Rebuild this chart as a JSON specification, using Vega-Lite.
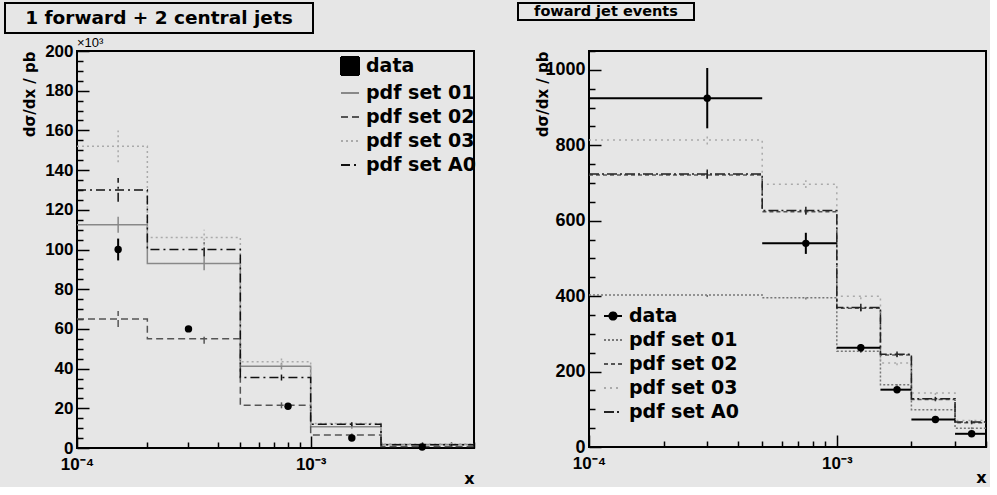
{
  "$schema": "https://vega.github.io/schema/vega-lite/v6.json",
  "padding": {"left": 4, "top": 2, "right": 0, "bottom": 0},
  "datasets": {
    "left_pdf": [
      {"series": "pdf set 01", "bin": 1, "lo": 0.0001, "hi": 0.0002, "xc": 0.00015, "y": 112.5, "ylo": 108.5, "yhi": 116.5},
      {"series": "pdf set 01", "bin": 2, "lo": 0.0002, "hi": 0.0005, "xc": 0.00035, "y": 93, "ylo": 89.5, "yhi": 96.5},
      {"series": "pdf set 01", "bin": 3, "lo": 0.0005, "hi": 0.001, "xc": 0.00075, "y": 41.2, "ylo": 39.5, "yhi": 43},
      {"series": "pdf set 01", "bin": 4, "lo": 0.001, "hi": 0.002, "xc": 0.0015, "y": 10.7, "ylo": 9.7, "yhi": 11.7},
      {"series": "pdf set 01", "bin": 5, "lo": 0.002, "hi": 0.005, "xc": 0.004, "y": 1.8, "ylo": 1.4, "yhi": 2.2},
      {"series": "pdf set 02", "bin": 1, "lo": 0.0001, "hi": 0.0002, "xc": 0.00015, "y": 65, "ylo": 61, "yhi": 69},
      {"series": "pdf set 02", "bin": 2, "lo": 0.0002, "hi": 0.0005, "xc": 0.00035, "y": 55, "ylo": 52.5, "yhi": 57.5},
      {"series": "pdf set 02", "bin": 3, "lo": 0.0005, "hi": 0.001, "xc": 0.00075, "y": 21.5, "ylo": 20, "yhi": 23},
      {"series": "pdf set 02", "bin": 4, "lo": 0.001, "hi": 0.002, "xc": 0.0015, "y": 6.5, "ylo": 5.7, "yhi": 7.3},
      {"series": "pdf set 02", "bin": 5, "lo": 0.002, "hi": 0.005, "xc": 0.004, "y": 0.8, "ylo": 0.5, "yhi": 1.1},
      {"series": "pdf set 03", "bin": 1, "lo": 0.0001, "hi": 0.0002, "xc": 0.00015, "y": 152, "ylo": 144, "yhi": 160},
      {"series": "pdf set 03", "bin": 2, "lo": 0.0002, "hi": 0.0005, "xc": 0.00035, "y": 106, "ylo": 102, "yhi": 110},
      {"series": "pdf set 03", "bin": 3, "lo": 0.0005, "hi": 0.001, "xc": 0.00075, "y": 43.5, "ylo": 41.5, "yhi": 45.5},
      {"series": "pdf set 03", "bin": 4, "lo": 0.001, "hi": 0.002, "xc": 0.0015, "y": 12.3, "ylo": 11.3, "yhi": 13.3},
      {"series": "pdf set 03", "bin": 5, "lo": 0.002, "hi": 0.005, "xc": 0.004, "y": 2.0, "ylo": 1.6, "yhi": 2.4},
      {"series": "pdf set A0", "bin": 1, "lo": 0.0001, "hi": 0.0002, "xc": 0.00015, "y": 130, "ylo": 124, "yhi": 136},
      {"series": "pdf set A0", "bin": 2, "lo": 0.0002, "hi": 0.0005, "xc": 0.00035, "y": 100, "ylo": 96.5, "yhi": 103.5},
      {"series": "pdf set A0", "bin": 3, "lo": 0.0005, "hi": 0.001, "xc": 0.00075, "y": 35.5, "ylo": 34, "yhi": 37},
      {"series": "pdf set A0", "bin": 4, "lo": 0.001, "hi": 0.002, "xc": 0.0015, "y": 12, "ylo": 11, "yhi": 13},
      {"series": "pdf set A0", "bin": 5, "lo": 0.002, "hi": 0.005, "xc": 0.004, "y": 1.6, "ylo": 1.2, "yhi": 2.0}
    ],
    "left_data": [
      {"series": "data", "x": 0.00015, "y": 100, "ylo": 94.5, "yhi": 105.5},
      {"series": "data", "x": 0.0003, "y": 60, "ylo": 58.8, "yhi": 61.2},
      {"series": "data", "x": 0.0008, "y": 21, "ylo": 20.2, "yhi": 21.8},
      {"series": "data", "x": 0.0015, "y": 5, "ylo": 4.5, "yhi": 5.5},
      {"series": "data", "x": 0.003, "y": 0.5, "ylo": 0.3, "yhi": 0.7}
    ],
    "right_pdf": [
      {"series": "pdf set 01", "bin": 1, "lo": 0.0001, "hi": 0.0005, "xc": 0.0003, "y": 403, "ylo": 398, "yhi": 408},
      {"series": "pdf set 01", "bin": 2, "lo": 0.0005, "hi": 0.001, "xc": 0.00075, "y": 396, "ylo": 391, "yhi": 401},
      {"series": "pdf set 01", "bin": 3, "lo": 0.001, "hi": 0.0015, "xc": 0.00125, "y": 254, "ylo": 249, "yhi": 259},
      {"series": "pdf set 01", "bin": 4, "lo": 0.0015, "hi": 0.002, "xc": 0.00175, "y": 165, "ylo": 161, "yhi": 169},
      {"series": "pdf set 01", "bin": 5, "lo": 0.002, "hi": 0.003, "xc": 0.0025, "y": 99, "ylo": 96, "yhi": 102},
      {"series": "pdf set 01", "bin": 6, "lo": 0.003, "hi": 0.004, "xc": 0.0035, "y": 50, "ylo": 47, "yhi": 53},
      {"series": "pdf set 02", "bin": 1, "lo": 0.0001, "hi": 0.0005, "xc": 0.0003, "y": 721, "ylo": 711, "yhi": 731},
      {"series": "pdf set 02", "bin": 2, "lo": 0.0005, "hi": 0.001, "xc": 0.00075, "y": 624, "ylo": 616, "yhi": 632},
      {"series": "pdf set 02", "bin": 3, "lo": 0.001, "hi": 0.0015, "xc": 0.00125, "y": 368, "ylo": 360, "yhi": 376},
      {"series": "pdf set 02", "bin": 4, "lo": 0.0015, "hi": 0.002, "xc": 0.00175, "y": 244, "ylo": 238, "yhi": 250},
      {"series": "pdf set 02", "bin": 5, "lo": 0.002, "hi": 0.003, "xc": 0.0025, "y": 126, "ylo": 121, "yhi": 131},
      {"series": "pdf set 02", "bin": 6, "lo": 0.003, "hi": 0.004, "xc": 0.0035, "y": 64, "ylo": 60, "yhi": 68},
      {"series": "pdf set 03", "bin": 1, "lo": 0.0001, "hi": 0.0005, "xc": 0.0003, "y": 814, "ylo": 802, "yhi": 826},
      {"series": "pdf set 03", "bin": 2, "lo": 0.0005, "hi": 0.001, "xc": 0.00075, "y": 697, "ylo": 687, "yhi": 707},
      {"series": "pdf set 03", "bin": 3, "lo": 0.001, "hi": 0.0015, "xc": 0.00125, "y": 400, "ylo": 392, "yhi": 408},
      {"series": "pdf set 03", "bin": 4, "lo": 0.0015, "hi": 0.002, "xc": 0.00175, "y": 223, "ylo": 217, "yhi": 229},
      {"series": "pdf set 03", "bin": 5, "lo": 0.002, "hi": 0.003, "xc": 0.0025, "y": 143, "ylo": 138, "yhi": 148},
      {"series": "pdf set 03", "bin": 6, "lo": 0.003, "hi": 0.004, "xc": 0.0035, "y": 70, "ylo": 66, "yhi": 74},
      {"series": "pdf set A0", "bin": 1, "lo": 0.0001, "hi": 0.0005, "xc": 0.0003, "y": 724, "ylo": 712, "yhi": 736},
      {"series": "pdf set A0", "bin": 2, "lo": 0.0005, "hi": 0.001, "xc": 0.00075, "y": 627, "ylo": 617, "yhi": 637},
      {"series": "pdf set A0", "bin": 3, "lo": 0.001, "hi": 0.0015, "xc": 0.00125, "y": 370, "ylo": 360, "yhi": 380},
      {"series": "pdf set A0", "bin": 4, "lo": 0.0015, "hi": 0.002, "xc": 0.00175, "y": 246, "ylo": 239, "yhi": 253},
      {"series": "pdf set A0", "bin": 5, "lo": 0.002, "hi": 0.003, "xc": 0.0025, "y": 128, "ylo": 123, "yhi": 133},
      {"series": "pdf set A0", "bin": 6, "lo": 0.003, "hi": 0.004, "xc": 0.0035, "y": 66, "ylo": 62, "yhi": 70}
    ],
    "right_data": [
      {"series": "data", "lo": 0.0001, "hi": 0.0005, "x": 0.0003, "y": 925, "ylo": 845, "yhi": 1005},
      {"series": "data", "lo": 0.0005, "hi": 0.001, "x": 0.00075, "y": 540, "ylo": 512, "yhi": 568},
      {"series": "data", "lo": 0.001, "hi": 0.0015, "x": 0.00125, "y": 263, "ylo": 253, "yhi": 273},
      {"series": "data", "lo": 0.0015, "hi": 0.002, "x": 0.00175, "y": 152, "ylo": 146, "yhi": 158},
      {"series": "data", "lo": 0.002, "hi": 0.003, "x": 0.0025, "y": 73, "ylo": 68, "yhi": 78},
      {"series": "data", "lo": 0.003, "hi": 0.004, "x": 0.0035, "y": 35, "ylo": 31, "yhi": 39}
    ],
    "left_title": [{"t": "1 forward + 2 central jets"}],
    "right_title": [{"t": "foward jet events"}]
  },
  "spacing": 2,
  "resolve": {"scale": {"x": "independent", "y": "independent", "stroke": "independent", "strokeDash": "independent", "shape": "independent", "fill": "independent"}},
  "vconcat": [
    {
      "spacing": 203,
      "hconcat": [
        {
          "width": 308,
          "height": 30,
          "data": {"name": "left_title"},
          "layer": [
            {"mark": {"type": "rect", "fill": "#e6e6e6", "stroke": "black", "strokeWidth": 2}, "encoding": {}},
            {"mark": {"type": "text", "font": "DejaVu Sans", "fontSize": 18.5, "fontWeight": "bold", "color": "black"}, "encoding": {"text": {"field": "t"}}}
          ]
        },
        {
          "width": 176,
          "height": 17,
          "data": {"name": "right_title"},
          "layer": [
            {"mark": {"type": "rect", "fill": "#e6e6e6", "stroke": "black", "strokeWidth": 2}, "encoding": {}},
            {"mark": {"type": "text", "font": "DejaVu Sans", "fontSize": 14.5, "fontWeight": "bold", "color": "black"}, "encoding": {"text": {"field": "t"}}}
          ]
        }
      ]
    },
    {
      "spacing": 56,
      "resolve": {"scale": {"x": "independent", "y": "independent", "stroke": "independent", "strokeDash": "independent", "shape": "independent", "fill": "independent"}},
      "hconcat": [
        {
          "spacing": 15,
          "resolve": {"scale": {"x": "independent", "y": "independent", "stroke": "independent", "strokeDash": "independent", "shape": "independent", "fill": "independent"}},
          "hconcat": [
            {
              "width": 1,
              "height": 1,
              "view": {"stroke": null},
              "data": {"values": [{"t": ""}]},
              "mark": {"type": "text", "text": ""},
              "encoding": {}
            },
            {
              "width": 397,
              "height": 397,
              "title": {"text": "×10³", "anchor": "start", "frame": "group", "orient": "top", "font": "Liberation Sans", "fontSize": 13, "fontWeight": "normal", "offset": -8, "color": "black"},
              "layer": [
                {
                  "data": {"name": "left_pdf"},
                  "transform": [{"fold": ["lo", "hi"], "as": ["edge", "xe"]}],
                  "mark": {"type": "line", "strokeWidth": 1.5},
                  "encoding": {
                    "x": {"field": "xe", "type": "quantitative", "scale": {"type": "log", "domain": [0.0001, 0.005], "nice": false},
                      "axis": {"values": [0.0001, 0.0002, 0.0003, 0.0004, 0.0005, 0.0006, 0.0007, 0.0008, 0.0009, 0.001, 0.002, 0.003, 0.004, 0.005], "labelExpr": "datum.value == 0.0001 ? '10⁻⁴' : (datum.value == 0.001 ? '10⁻³' : '')", "tickSize": {"condition": {"test": "datum.value == 0.0001 || datum.value == 0.001", "value": -12}, "value": -6}, "labelPadding": 20, "title": "x", "titleAnchor": "end", "titlePadding": -8, "titleFontSize": 16}},
                    "y": {"field": "y", "type": "quantitative", "scale": {"domain": [0, 200], "nice": false},
                      "axis": {"values": [0,5,10,15,20,25,30,35,40,45,50,55,60,65,70,75,80,85,90,95,100,105,110,115,120,125,130,135,140,145,150,155,160,165,170,175,180,185,190,195,200], "format": "d", "labelExpr": "datum.value % 20 == 0 ? datum.label : ''", "tickSize": {"condition": {"test": "datum.value % 20 == 0", "value": -12}, "value": -6}, "labelPadding": 16, "title": "dσ/dx / pb", "titleAnchor": "end", "titlePadding": 7, "titleFontSize": 15}},
                    "stroke": {"field": "series", "type": "nominal", "scale": {"domain": ["data", "pdf set 01", "pdf set 02", "pdf set 03", "pdf set A0"], "range": ["black", "#888888", "#555555", "#aaaaaa", "#111111"]}, "legend": {"orient": "none", "legendX": 263, "legendY": 5, "title": null}},
                    "strokeDash": {"field": "series", "type": "nominal", "scale": {"domain": ["data", "pdf set 01", "pdf set 02", "pdf set 03", "pdf set A0"], "range": [[1, 0], [1, 0], [7, 4], [2, 3], [9, 4, 2, 4]]}, "legend": {"orient": "none", "legendX": 263, "legendY": 5, "title": null}},
                    "order": [{"field": "bin", "type": "quantitative"}, {"field": "edge", "sort": "descending"}]
                  }
                },
                {
                  "data": {"name": "left_pdf"},
                  "mark": {"type": "rule", "strokeWidth": 1.5},
                  "encoding": {
                    "x": {"field": "xc", "type": "quantitative", "scale": {"type": "log", "domain": [0.0001, 0.005], "nice": false},
                      "axis": {"values": [0.0001, 0.0002, 0.0003, 0.0004, 0.0005, 0.0006, 0.0007, 0.0008, 0.0009, 0.001, 0.002, 0.003, 0.004, 0.005], "labelExpr": "datum.value == 0.0001 ? '10⁻⁴' : (datum.value == 0.001 ? '10⁻³' : '')", "tickSize": {"condition": {"test": "datum.value == 0.0001 || datum.value == 0.001", "value": -12}, "value": -6}, "labelPadding": 20, "title": "x", "titleAnchor": "end", "titlePadding": -8, "titleFontSize": 16}},
                    "y": {"field": "ylo", "type": "quantitative", "scale": {"domain": [0, 200], "nice": false},
                      "axis": {"values": [0,5,10,15,20,25,30,35,40,45,50,55,60,65,70,75,80,85,90,95,100,105,110,115,120,125,130,135,140,145,150,155,160,165,170,175,180,185,190,195,200], "format": "d", "labelExpr": "datum.value % 20 == 0 ? datum.label : ''", "tickSize": {"condition": {"test": "datum.value % 20 == 0", "value": -12}, "value": -6}, "labelPadding": 16, "title": "dσ/dx / pb", "titleAnchor": "end", "titlePadding": 7, "titleFontSize": 15}},
                    "y2": {"field": "yhi"},
                    "stroke": {"field": "series", "type": "nominal", "scale": {"domain": ["data", "pdf set 01", "pdf set 02", "pdf set 03", "pdf set A0"], "range": ["black", "#888888", "#555555", "#aaaaaa", "#111111"]}, "legend": {"orient": "none", "legendX": 263, "legendY": 5, "title": null}},
                    "strokeDash": {"field": "series", "type": "nominal", "scale": {"domain": ["data", "pdf set 01", "pdf set 02", "pdf set 03", "pdf set A0"], "range": [[1, 0], [1, 0], [7, 4], [2, 3], [9, 4, 2, 4]]}, "legend": {"orient": "none", "legendX": 263, "legendY": 5, "title": null}}
                  }
                },
                {
                  "data": {"name": "left_data"},
                  "mark": {"type": "rule", "strokeWidth": 2, "color": "black"},
                  "encoding": {
                    "x": {"field": "x", "type": "quantitative", "scale": {"type": "log", "domain": [0.0001, 0.005], "nice": false},
                      "axis": {"values": [0.0001, 0.0002, 0.0003, 0.0004, 0.0005, 0.0006, 0.0007, 0.0008, 0.0009, 0.001, 0.002, 0.003, 0.004, 0.005], "labelExpr": "datum.value == 0.0001 ? '10⁻⁴' : (datum.value == 0.001 ? '10⁻³' : '')", "tickSize": {"condition": {"test": "datum.value == 0.0001 || datum.value == 0.001", "value": -12}, "value": -6}, "labelPadding": 20, "title": "x", "titleAnchor": "end", "titlePadding": -8, "titleFontSize": 16}},
                    "y": {"field": "ylo", "type": "quantitative", "scale": {"domain": [0, 200], "nice": false},
                      "axis": {"values": [0,5,10,15,20,25,30,35,40,45,50,55,60,65,70,75,80,85,90,95,100,105,110,115,120,125,130,135,140,145,150,155,160,165,170,175,180,185,190,195,200], "format": "d", "labelExpr": "datum.value % 20 == 0 ? datum.label : ''", "tickSize": {"condition": {"test": "datum.value % 20 == 0", "value": -12}, "value": -6}, "labelPadding": 16, "title": "dσ/dx / pb", "titleAnchor": "end", "titlePadding": 7, "titleFontSize": 15}},
                    "y2": {"field": "yhi"}
                  }
                },
                {
                  "data": {"name": "left_data"},
                  "mark": {"type": "point", "filled": true, "size": 55, "opacity": 1, "shape": "circle", "color": "black"},
                  "encoding": {
                    "x": {"field": "x", "type": "quantitative", "scale": {"type": "log", "domain": [0.0001, 0.005], "nice": false},
                      "axis": {"values": [0.0001, 0.0002, 0.0003, 0.0004, 0.0005, 0.0006, 0.0007, 0.0008, 0.0009, 0.001, 0.002, 0.003, 0.004, 0.005], "labelExpr": "datum.value == 0.0001 ? '10⁻⁴' : (datum.value == 0.001 ? '10⁻³' : '')", "tickSize": {"condition": {"test": "datum.value == 0.0001 || datum.value == 0.001", "value": -12}, "value": -6}, "labelPadding": 20, "title": "x", "titleAnchor": "end", "titlePadding": -8, "titleFontSize": 16}},
                    "y": {"field": "y", "type": "quantitative", "scale": {"domain": [0, 200], "nice": false},
                      "axis": {"values": [0,5,10,15,20,25,30,35,40,45,50,55,60,65,70,75,80,85,90,95,100,105,110,115,120,125,130,135,140,145,150,155,160,165,170,175,180,185,190,195,200], "format": "d", "labelExpr": "datum.value % 20 == 0 ? datum.label : ''", "tickSize": {"condition": {"test": "datum.value % 20 == 0", "value": -12}, "value": -6}, "labelPadding": 16, "title": "dσ/dx / pb", "titleAnchor": "end", "titlePadding": 7, "titleFontSize": 15}}
                  }
                },
                {
                  "data": {"name": "left_data"},
                  "mark": {"type": "point", "filled": true, "opacity": 0},
                  "encoding": {
                    "x": {"field": "x", "type": "quantitative", "scale": {"type": "log", "domain": [0.0001, 0.005], "nice": false},
                      "axis": {"values": [0.0001, 0.0002, 0.0003, 0.0004, 0.0005, 0.0006, 0.0007, 0.0008, 0.0009, 0.001, 0.002, 0.003, 0.004, 0.005], "labelExpr": "datum.value == 0.0001 ? '10⁻⁴' : (datum.value == 0.001 ? '10⁻³' : '')", "tickSize": {"condition": {"test": "datum.value == 0.0001 || datum.value == 0.001", "value": -12}, "value": -6}, "labelPadding": 20, "title": "x", "titleAnchor": "end", "titlePadding": -8, "titleFontSize": 16}},
                    "y": {"field": "y", "type": "quantitative", "scale": {"domain": [0, 200], "nice": false},
                      "axis": {"values": [0,5,10,15,20,25,30,35,40,45,50,55,60,65,70,75,80,85,90,95,100,105,110,115,120,125,130,135,140,145,150,155,160,165,170,175,180,185,190,195,200], "format": "d", "labelExpr": "datum.value % 20 == 0 ? datum.label : ''", "tickSize": {"condition": {"test": "datum.value % 20 == 0", "value": -12}, "value": -6}, "labelPadding": 16, "title": "dσ/dx / pb", "titleAnchor": "end", "titlePadding": 7, "titleFontSize": 15}},
                    "shape": {"field": "series", "type": "nominal", "scale": {"domain": ["data", "pdf set 01", "pdf set 02", "pdf set 03", "pdf set A0"], "range": ["square", "M-1,0H1", "M-1,0H1", "M-1,0H1", "M-1,0H1"]}, "legend": {"orient": "none", "legendX": 263, "legendY": 5, "title": null}},
                    "fill": {"field": "series", "type": "nominal", "scale": {"domain": ["data", "pdf set 01", "pdf set 02", "pdf set 03", "pdf set A0"], "range": ["black", "transparent", "transparent", "transparent", "transparent"]}, "legend": {"orient": "none", "legendX": 263, "legendY": 5, "title": null}}
                  }
                }
              ]
            }
          ]
        },
        {
          "width": 397,
          "height": 396,
          "layer": [
            {
              "data": {"name": "right_pdf"},
              "transform": [{"fold": ["lo", "hi"], "as": ["edge", "xe"]}],
              "mark": {"type": "line", "strokeWidth": 1.5},
              "encoding": {
                "x": {"field": "xe", "type": "quantitative", "scale": {"type": "log", "domain": [0.0001, 0.004], "nice": false},
                  "axis": {"values": [0.0001, 0.0002, 0.0003, 0.0004, 0.0005, 0.0006, 0.0007, 0.0008, 0.0009, 0.001, 0.002, 0.003, 0.004], "labelExpr": "datum.value == 0.0001 ? '10⁻⁴' : (datum.value == 0.001 ? '10⁻³' : '')", "tickSize": {"condition": {"test": "datum.value == 0.0001 || datum.value == 0.001", "value": -12}, "value": -6}, "labelPadding": 20, "title": "x", "titleAnchor": "end", "titlePadding": -8, "titleFontSize": 16}},
                "y": {"field": "y", "type": "quantitative", "scale": {"domain": [0, 1050], "nice": false},
                  "axis": {"values": [0,50,100,150,200,250,300,350,400,450,500,550,600,650,700,750,800,850,900,950,1000,1050], "format": "d", "labelExpr": "datum.value % 200 == 0 ? datum.label : ''", "tickSize": {"condition": {"test": "datum.value % 200 == 0", "value": -12}, "value": -6}, "labelPadding": 16, "labelFontSize": 18, "title": "dσ/dx / pb", "titleAnchor": "end", "titlePadding": -6, "titleFontSize": 15}},
                "stroke": {"field": "series", "type": "nominal", "scale": {"domain": ["data", "pdf set 01", "pdf set 02", "pdf set 03", "pdf set A0"], "range": ["black", "#777777", "#555555", "#aaaaaa", "#222222"]}, "legend": {"orient": "none", "legendX": 14, "legendY": 255, "title": null}},
                "strokeDash": {"field": "series", "type": "nominal", "scale": {"domain": ["data", "pdf set 01", "pdf set 02", "pdf set 03", "pdf set A0"], "range": [[1, 0], [2, 2], [4, 3], [2, 4], [10, 3, 2, 3]]}, "legend": {"orient": "none", "legendX": 14, "legendY": 255, "title": null}},
                "order": [{"field": "bin", "type": "quantitative"}, {"field": "edge", "sort": "descending"}]
              }
            },
            {
              "data": {"name": "right_pdf"},
              "mark": {"type": "rule", "strokeWidth": 1.5},
              "encoding": {
                "x": {"field": "xc", "type": "quantitative", "scale": {"type": "log", "domain": [0.0001, 0.004], "nice": false},
                  "axis": {"values": [0.0001, 0.0002, 0.0003, 0.0004, 0.0005, 0.0006, 0.0007, 0.0008, 0.0009, 0.001, 0.002, 0.003, 0.004], "labelExpr": "datum.value == 0.0001 ? '10⁻⁴' : (datum.value == 0.001 ? '10⁻³' : '')", "tickSize": {"condition": {"test": "datum.value == 0.0001 || datum.value == 0.001", "value": -12}, "value": -6}, "labelPadding": 20, "title": "x", "titleAnchor": "end", "titlePadding": -8, "titleFontSize": 16}},
                "y": {"field": "ylo", "type": "quantitative", "scale": {"domain": [0, 1050], "nice": false},
                  "axis": {"values": [0,50,100,150,200,250,300,350,400,450,500,550,600,650,700,750,800,850,900,950,1000,1050], "format": "d", "labelExpr": "datum.value % 200 == 0 ? datum.label : ''", "tickSize": {"condition": {"test": "datum.value % 200 == 0", "value": -12}, "value": -6}, "labelPadding": 16, "labelFontSize": 18, "title": "dσ/dx / pb", "titleAnchor": "end", "titlePadding": -6, "titleFontSize": 15}},
                "y2": {"field": "yhi"},
                "stroke": {"field": "series", "type": "nominal", "scale": {"domain": ["data", "pdf set 01", "pdf set 02", "pdf set 03", "pdf set A0"], "range": ["black", "#777777", "#555555", "#aaaaaa", "#222222"]}, "legend": {"orient": "none", "legendX": 14, "legendY": 255, "title": null}},
                "strokeDash": {"field": "series", "type": "nominal", "scale": {"domain": ["data", "pdf set 01", "pdf set 02", "pdf set 03", "pdf set A0"], "range": [[1, 0], [2, 2], [4, 3], [2, 4], [10, 3, 2, 3]]}, "legend": {"orient": "none", "legendX": 14, "legendY": 255, "title": null}}
              }
            },
            {
              "data": {"name": "right_data"},
              "mark": {"type": "rule", "strokeWidth": 2, "color": "black"},
              "encoding": {
                "x": {"field": "lo", "type": "quantitative", "scale": {"type": "log", "domain": [0.0001, 0.004], "nice": false},
                  "axis": {"values": [0.0001, 0.0002, 0.0003, 0.0004, 0.0005, 0.0006, 0.0007, 0.0008, 0.0009, 0.001, 0.002, 0.003, 0.004], "labelExpr": "datum.value == 0.0001 ? '10⁻⁴' : (datum.value == 0.001 ? '10⁻³' : '')", "tickSize": {"condition": {"test": "datum.value == 0.0001 || datum.value == 0.001", "value": -12}, "value": -6}, "labelPadding": 20, "title": "x", "titleAnchor": "end", "titlePadding": -8, "titleFontSize": 16}},
                "x2": {"field": "hi"},
                "y": {"field": "y", "type": "quantitative", "scale": {"domain": [0, 1050], "nice": false},
                  "axis": {"values": [0,50,100,150,200,250,300,350,400,450,500,550,600,650,700,750,800,850,900,950,1000,1050], "format": "d", "labelExpr": "datum.value % 200 == 0 ? datum.label : ''", "tickSize": {"condition": {"test": "datum.value % 200 == 0", "value": -12}, "value": -6}, "labelPadding": 16, "labelFontSize": 18, "title": "dσ/dx / pb", "titleAnchor": "end", "titlePadding": -6, "titleFontSize": 15}}
              }
            },
            {
              "data": {"name": "right_data"},
              "mark": {"type": "rule", "strokeWidth": 2, "color": "black"},
              "encoding": {
                "x": {"field": "x", "type": "quantitative", "scale": {"type": "log", "domain": [0.0001, 0.004], "nice": false},
                  "axis": {"values": [0.0001, 0.0002, 0.0003, 0.0004, 0.0005, 0.0006, 0.0007, 0.0008, 0.0009, 0.001, 0.002, 0.003, 0.004], "labelExpr": "datum.value == 0.0001 ? '10⁻⁴' : (datum.value == 0.001 ? '10⁻³' : '')", "tickSize": {"condition": {"test": "datum.value == 0.0001 || datum.value == 0.001", "value": -12}, "value": -6}, "labelPadding": 20, "title": "x", "titleAnchor": "end", "titlePadding": -8, "titleFontSize": 16}},
                "y": {"field": "ylo", "type": "quantitative", "scale": {"domain": [0, 1050], "nice": false},
                  "axis": {"values": [0,50,100,150,200,250,300,350,400,450,500,550,600,650,700,750,800,850,900,950,1000,1050], "format": "d", "labelExpr": "datum.value % 200 == 0 ? datum.label : ''", "tickSize": {"condition": {"test": "datum.value % 200 == 0", "value": -12}, "value": -6}, "labelPadding": 16, "labelFontSize": 18, "title": "dσ/dx / pb", "titleAnchor": "end", "titlePadding": -6, "titleFontSize": 15}},
                "y2": {"field": "yhi"}
              }
            },
            {
              "data": {"name": "right_data"},
              "mark": {"type": "point", "filled": true, "size": 55, "opacity": 1, "shape": "circle", "color": "black"},
              "encoding": {
                "x": {"field": "x", "type": "quantitative", "scale": {"type": "log", "domain": [0.0001, 0.004], "nice": false},
                  "axis": {"values": [0.0001, 0.0002, 0.0003, 0.0004, 0.0005, 0.0006, 0.0007, 0.0008, 0.0009, 0.001, 0.002, 0.003, 0.004], "labelExpr": "datum.value == 0.0001 ? '10⁻⁴' : (datum.value == 0.001 ? '10⁻³' : '')", "tickSize": {"condition": {"test": "datum.value == 0.0001 || datum.value == 0.001", "value": -12}, "value": -6}, "labelPadding": 20, "title": "x", "titleAnchor": "end", "titlePadding": -8, "titleFontSize": 16}},
                "y": {"field": "y", "type": "quantitative", "scale": {"domain": [0, 1050], "nice": false},
                  "axis": {"values": [0,50,100,150,200,250,300,350,400,450,500,550,600,650,700,750,800,850,900,950,1000,1050], "format": "d", "labelExpr": "datum.value % 200 == 0 ? datum.label : ''", "tickSize": {"condition": {"test": "datum.value % 200 == 0", "value": -12}, "value": -6}, "labelPadding": 16, "labelFontSize": 18, "title": "dσ/dx / pb", "titleAnchor": "end", "titlePadding": -6, "titleFontSize": 15}}
              }
            },
            {
              "data": {"name": "right_data"},
              "mark": {"type": "point", "filled": true, "opacity": 0},
              "encoding": {
                "x": {"field": "x", "type": "quantitative", "scale": {"type": "log", "domain": [0.0001, 0.004], "nice": false},
                  "axis": {"values": [0.0001, 0.0002, 0.0003, 0.0004, 0.0005, 0.0006, 0.0007, 0.0008, 0.0009, 0.001, 0.002, 0.003, 0.004], "labelExpr": "datum.value == 0.0001 ? '10⁻⁴' : (datum.value == 0.001 ? '10⁻³' : '')", "tickSize": {"condition": {"test": "datum.value == 0.0001 || datum.value == 0.001", "value": -12}, "value": -6}, "labelPadding": 20, "title": "x", "titleAnchor": "end", "titlePadding": -8, "titleFontSize": 16}},
                "y": {"field": "y", "type": "quantitative", "scale": {"domain": [0, 1050], "nice": false},
                  "axis": {"values": [0,50,100,150,200,250,300,350,400,450,500,550,600,650,700,750,800,850,900,950,1000,1050], "format": "d", "labelExpr": "datum.value % 200 == 0 ? datum.label : ''", "tickSize": {"condition": {"test": "datum.value % 200 == 0", "value": -12}, "value": -6}, "labelPadding": 16, "labelFontSize": 18, "title": "dσ/dx / pb", "titleAnchor": "end", "titlePadding": -6, "titleFontSize": 15}},
                "shape": {"field": "series", "type": "nominal", "scale": {"domain": ["data", "pdf set 01", "pdf set 02", "pdf set 03", "pdf set A0"], "range": ["M-1,0H1M-0.4,0A0.4,0.4,0,1,0,0.4,0A0.4,0.4,0,1,0,-0.4,0Z", "M-1,0H1", "M-1,0H1", "M-1,0H1", "M-1,0H1"]}, "legend": {"orient": "none", "legendX": 14, "legendY": 255, "title": null}},
                "fill": {"field": "series", "type": "nominal", "scale": {"domain": ["data", "pdf set 01", "pdf set 02", "pdf set 03", "pdf set A0"], "range": ["black", "transparent", "transparent", "transparent", "transparent"]}, "legend": {"orient": "none", "legendX": 14, "legendY": 255, "title": null}}
              }
            }
          ]
        }
      ]
    }
  ],
  "config": {
    "background": "#e6e6e6",
    "view": {"stroke": "black", "strokeWidth": 2},
    "axis": {"labelFont": "Liberation Sans", "labelFontSize": 17, "labelFontWeight": "bold", "labelColor": "black", "tickColor": "black", "tickWidth": 1.5, "domain": false, "grid": false, "titleColor": "black", "titleFont": "DejaVu Sans", "titleFontWeight": "bold", "labelOverlap": false, "labelFlush": false, "labelBound": false},
    "legend": {"labelFont": "DejaVu Sans", "labelFontSize": 19, "labelFontWeight": "bold", "labelColor": "black", "symbolSize": 324, "symbolStrokeWidth": 2, "symbolOpacity": 1, "rowPadding": 4, "labelOffset": 6, "padding": 0, "labelLimit": 0}
  }
}
